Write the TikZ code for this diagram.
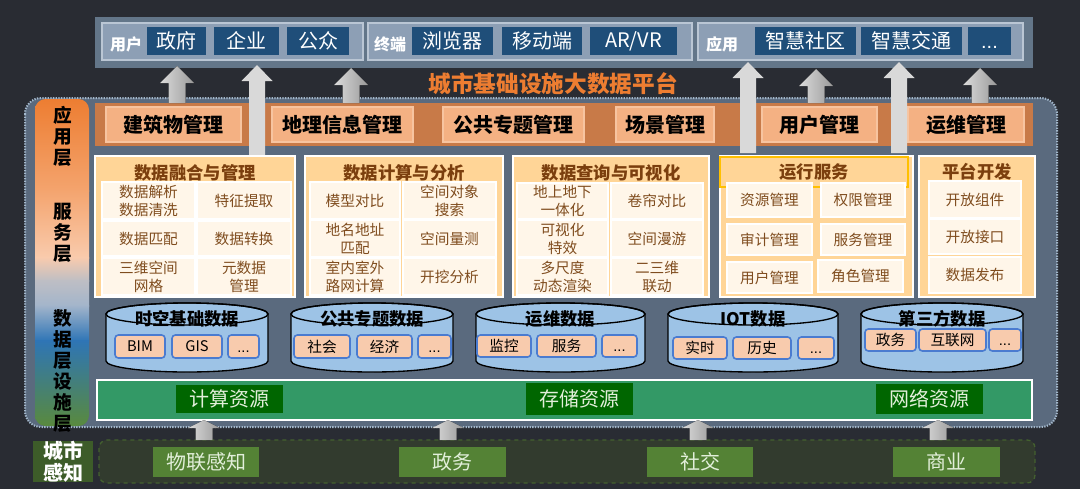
\documentclass[tikz,border=0pt]{standalone}
\usepackage{fontspec}
\setmainfont{Noto Sans CJK SC}
\newfontfamily\dotfont{Liberation Sans}
\newcommand\mydots{\vphantom{政}{\dotfont ...}}
\definecolor{bgc}{HTML}{292C33}
\definecolor{pouter}{HTML}{637689}
\definecolor{pinner}{HTML}{8D9FB5}
\definecolor{pinnerb}{HTML}{BAC6D4}
\definecolor{bluebx}{HTML}{1F4E79}
\definecolor{titleor}{HTML}{ED7D31}
\definecolor{platf}{HTML}{5A6A7E}
\definecolor{platb}{HTML}{A3B8CC}
\definecolor{appband}{HTML}{C87A48}
\definecolor{appbx}{HTML}{F4B183}
\definecolor{appbxb}{HTML}{F7C4A0}
\definecolor{svcfill}{HTML}{FFD597}
\definecolor{svctext}{HTML}{7B3F0E}
\definecolor{cellfill}{HTML}{FFF6E9}
\definecolor{celltext}{HTML}{7F4C1E}
\definecolor{goldc}{HTML}{FFC000}
\definecolor{cylfill}{HTML}{9DC3E6}
\definecolor{subfill}{HTML}{F8CBAD}
\definecolor{subdraw}{HTML}{4A7BD0}
\definecolor{infrafill}{HTML}{339966}
\definecolor{infralab}{HTML}{006600}
\definecolor{sensestr}{HTML}{323B2E}
\definecolor{sensebd}{HTML}{44612F}
\definecolor{citylab}{HTML}{3D5C29}
\definecolor{sensefill}{HTML}{548235}
\definecolor{sensetext}{HTML}{E2EFDA}
\definecolor{arrL}{HTML}{DCDCDC}
\definecolor{arrR}{HTML}{999999}
\definecolor{arrFlat}{HTML}{D9D9D9}
\tikzset{
  pinbox/.style={fill=pinner, draw=pinnerb, line width=1pt},
  bluebox/.style={fill=bluebx, text=white, font=\fontsize{15}{18}\selectfont},
  plabel/.style={text=white, font=\bfseries\fontsize{12}{14}\selectfont},
  appbox/.style={fill=appbx, draw=appbxb, line width=1pt, font=\bfseries\fontsize{15}{18}\selectfont},
  svcbox/.style={fill=svcfill, draw=white, line width=1.2pt},
  svctitle/.style={text=svctext, font=\bfseries\fontsize{13}{15}\selectfont},
  goldtitle/.style={draw=goldc, line width=1pt, text=svctext, font=\bfseries\fontsize{13}{15}\selectfont},
  cellbox/.style={fill=cellfill, draw=white, line width=0.8pt, text=celltext, font=\fontsize{11}{13.5}\selectfont, align=center},
  cylbody/.style={fill=cylfill, draw=black, line width=1pt},
  cylrim/.style={draw=black, line width=1pt},
  cyllabel/.style={font=\bfseries\fontsize{13}{15}\selectfont},
  subbox/.style={fill=subfill, draw=subdraw, line width=1.2pt, rounded corners=2.5pt, font=\fontsize{11}{13}\selectfont},
  infraband/.style={fill=infrafill, draw=white, line width=1pt},
  infralabel/.style={fill=infralab, text=sensetext, font=\fontsize{15}{18}\selectfont},
  sensebox/.style={fill=sensefill, text=sensetext, font=\fontsize{15}{18}\selectfont},
  layerlabel/.style={align=center, font=\bfseries\fontsize{14}{15.8}\selectfont},
  shadearrow/.style={left color=arrL, right color=arrR},
  flatarrow/.style={fill=arrFlat},
}
% name, x1, y1, x2, y2, style, text
\newcommand\bx[7]{\node[#6, inner sep=0pt, minimum width={(#4-#2)*0.75pt}, minimum height={(#5-#3)*0.75pt}] (#1) at ({(#2+#4)/2},{(#3+#5)/2}) {#7};}
% cx, top, bottom, shaft half, head half, head height, style
\newcommand\uparr[7]{\fill[#7] ({#1-#4},#3) -- ({#1-#4},{#2+#6}) -- ({#1-#5},{#2+#6}) -- (#1,#2) -- ({#1+#5},{#2+#6}) -- ({#1+#4},{#2+#6}) -- ({#1+#4},#3) -- cycle;}
% name, x1, x2, radius, label
\newcommand\mycylinder[5]{%
  \filldraw[cylbody] (#2,314) -- (#2,361) arc[start angle=180,end angle=360,x radius=#4,y radius=8.25pt] -- (#3,314) arc[start angle=0,end angle=180,x radius=#4,y radius=8.25pt] -- cycle;
  \draw[cylrim] ({(#2+#3)/2},314) ellipse[x radius=#4, y radius=8.25pt];
  \node[cyllabel] (#1) at ({(#2+#3)/2},319) {#5};}
\begin{document}
\begin{tikzpicture}[x=0.75pt,y=-0.75pt]
\useasboundingbox[fill=bgc] (0,0) rectangle (1080,489);

% ---------- top panel ----------
\fill[pouter] (95,17) rectangle (1033,68);
\bx{pu}{102}{23}{363}{60}{pinbox}{}
\bx{pt}{368}{23}{692}{60}{pinbox}{}
\bx{pa}{698}{23}{1023}{60}{pinbox}{}
\node[plabel] (lu) at (126,44) {用户};
\node[plabel] (lt) at (390,44) {终端};
\node[plabel] (la) at (722,44) {应用};
\bx{u1}{147}{27}{206}{55}{bluebox}{政府}
\bx{u2}{214}{27}{279}{55}{bluebox}{企业}
\bx{u3}{287}{27}{349}{55}{bluebox}{公众}
\bx{t1}{412}{27}{493}{55}{bluebox}{浏览器}
\bx{t2}{502}{27}{582}{55}{bluebox}{移动端}
\bx{t3}{590}{27}{677}{55}{bluebox}{AR/VR}
\bx{a1}{755}{27}{856}{55}{bluebox}{智慧社区}
\bx{a2}{861}{27}{962}{55}{bluebox}{智慧交通}
\bx{a3}{968}{27}{1011}{55}{bluebox}{\mydots}

\node[text=titleor, font=\bfseries\fontsize{17}{20}\selectfont] (title) at (553,84) {城市基础设施大数据平台};

% ---------- platform ----------
\draw[fill=platf, draw=platb, line width=1.5pt, dash pattern=on 1pt off 1pt, rounded corners=12pt] (25,98) rectangle (1057,427);

% left layer strip
\begin{scope}
\clip[rounded corners=8pt] (35,99) rectangle (89,426);
\shade[top color=titleor, bottom color={rgb,255:red,244;green,164;blue,110}] (35,98) rectangle (89,191);
\shade[top color={rgb,255:red,244;green,164;blue,110}, bottom color={rgb,255:red,249;green,203;blue,173}] (35,190) rectangle (89,258);
\shade[top color={rgb,255:red,249;green,203;blue,173}, bottom color={rgb,255:red,190;green,190;blue,196}] (35,257) rectangle (89,281);
\shade[top color={rgb,255:red,190;green,190;blue,196}, bottom color={rgb,255:red,163;green,181;blue,203}] (35,280) rectangle (89,306);
\shade[top color={rgb,255:red,163;green,181;blue,203}, bottom color={rgb,255:red,46;green,117;blue,182}] (35,305) rectangle (89,341);
\shade[top color={rgb,255:red,46;green,117;blue,182}, bottom color={rgb,255:red,90;green,138;blue,60}] (35,340) rectangle (89,427);
\end{scope}
\node[layerlabel] (ly1) at (63,136) {应\\用\\层};
\node[layerlabel] (ly2) at (63,233) {服\\务\\层};
\node[layerlabel] (ly3) at (63,371) {数\\据\\层\\设\\施\\层};

% ---------- application layer ----------
\fill[appband] (95,103) rectangle (1033,146);
\bx{m1}{106}{107}{241}{142}{appbox}{建筑物管理}
\bx{m2}{272}{107}{413}{142}{appbox}{地理信息管理}
\bx{m3}{443}{107}{584}{142}{appbox}{公共专题管理}
\bx{m4}{616}{107}{714}{142}{appbox}{场景管理}
\bx{m5}{762}{107}{877}{142}{appbox}{用户管理}
\bx{m6}{908}{107}{1024}{142}{appbox}{运维管理}

% arrows to top panel
\uparr{177}{66}{103}{8.5}{17}{17}{shadearrow}
\uparr{351}{68}{103}{8.5}{17}{17}{shadearrow}
\uparr{816}{69}{103}{8.5}{17}{17}{shadearrow}
\uparr{980}{68}{103}{8.5}{17}{17}{shadearrow}
\uparr{257}{65}{155}{8}{15.5}{16}{flatarrow}
\uparr{748}{62}{153}{8}{15.5}{16}{flatarrow}
\uparr{899}{62}{153}{8}{15.5}{16}{flatarrow}

% ---------- service layer ----------
\bx{s1}{95}{156}{295}{297}{svcbox}{}
\node[svctitle] (s1t) at (195,173) {数据融合与管理};
\bx{c11}{102}{182}{195}{219}{cellbox}{数据解析\\数据清洗}
\bx{c12}{197}{182}{291}{219}{cellbox}{特征提取}
\bx{c13}{102}{221}{195}{256}{cellbox}{数据匹配}
\bx{c14}{197}{221}{291}{256}{cellbox}{数据转换}
\bx{c15}{102}{258}{195}{295}{cellbox}{三维空间\\网格}
\bx{c16}{197}{258}{291}{295}{cellbox}{元数据\\管理}

\bx{s2}{305}{156}{503}{297}{svcbox}{}
\node[svctitle] (s2t) at (404,173) {数据计算与分析};
\bx{c21}{310}{182}{400}{219}{cellbox}{模型对比}
\bx{c22}{403}{182}{496}{219}{cellbox}{空间对象\\搜索}
\bx{c23}{310}{220}{400}{257}{cellbox}{地名地址\\匹配}
\bx{c24}{403}{220}{496}{257}{cellbox}{空间量测}
\bx{c25}{310}{258}{400}{295}{cellbox}{室内室外\\路网计算}
\bx{c26}{403}{258}{496}{295}{cellbox}{开挖分析}

\bx{s3}{513}{156}{709}{297}{svcbox}{}
\node[svctitle] (s3t) at (611,173) {数据查询与可视化};
\bx{c31}{517}{183}{608}{219}{cellbox}{地上地下\\一体化}
\bx{c32}{611}{183}{703}{219}{cellbox}{卷帘对比}
\bx{c33}{517}{220}{608}{257}{cellbox}{可视化\\特效}
\bx{c34}{611}{220}{703}{257}{cellbox}{空间漫游}
\bx{c35}{517}{258}{608}{295}{cellbox}{多尺度\\动态渲染}
\bx{c36}{611}{258}{703}{295}{cellbox}{二三维\\联动}

\bx{s4}{720}{156}{913}{297}{svcbox}{}
\bx{s4t}{720}{157}{908}{187}{goldtitle}{运行服务}
\bx{c41}{727}{183}{812}{217}{cellbox}{资源管理}
\bx{c42}{821}{183}{905}{217}{cellbox}{权限管理}
\bx{c43}{727}{224}{812}{255}{cellbox}{审计管理}
\bx{c44}{821}{224}{905}{255}{cellbox}{服务管理}
\bx{c45}{727}{262}{812}{293}{cellbox}{用户管理}
\bx{c46}{818}{260}{903}{292}{cellbox}{角色管理}

\bx{s5}{919}{156}{1035}{297}{svcbox}{}
\node[svctitle] (s5t) at (977,172) {平台开发};
\bx{c51}{929}{181}{1021}{218}{cellbox}{开放组件}
\bx{c52}{929}{219}{1021}{254}{cellbox}{开放接口}
\bx{c53}{929}{257}{1021}{293}{cellbox}{数据发布}

% ---------- data layer ----------
\mycylinder{d1}{106}{268}{60.75pt}{时空基础数据}
\bx{d11}{115}{335}{165}{358}{subbox}{BIM}
\bx{d12}{172}{335}{222}{358}{subbox}{GIS}
\bx{d13}{228}{335}{259}{358}{subbox}{\mydots}

\mycylinder{d2}{291}{453}{60.75pt}{公共专题数据}
\bx{d21}{294}{335}{350}{358}{subbox}{社会}
\bx{d22}{357}{335}{412}{358}{subbox}{经济}
\bx{d23}{418}{335}{451}{358}{subbox}{\mydots}

\mycylinder{d3}{476}{645}{63.375pt}{运维数据}
\bx{d31}{477}{335}{531}{357}{subbox}{监控}
\bx{d32}{537}{335}{596}{357}{subbox}{服务}
\bx{d33}{602}{335}{637}{357}{subbox}{\mydots}

\mycylinder{d4}{668}{838}{63.75pt}{IOT数据}
\bx{d41}{673}{337}{727}{359}{subbox}{实时}
\bx{d42}{733}{337}{791}{359}{subbox}{历史}
\bx{d43}{798}{337}{834}{359}{subbox}{\mydots}

\mycylinder{d5}{861}{1023}{60.75pt}{第三方数据}
\bx{d51}{865}{329}{916}{351}{subbox}{政务}
\bx{d52}{919}{329}{986}{351}{subbox}{互联网}
\bx{d53}{989}{329}{1021}{351}{subbox}{\mydots}

% ---------- infrastructure ----------
\bx{inf}{97}{380}{1032}{420}{infraband}{}
\bx{i1}{176}{385}{283}{413}{infralabel}{计算资源}
\bx{i2}{526}{383}{633}{415}{infralabel}{存储资源}
\bx{i3}{876}{384}{983}{414}{infralabel}{网络资源}

% ---------- city sensing ----------
\draw[fill=sensestr, draw=sensebd, line width=1pt, dashed, rounded corners=6pt] (99,440) rectangle (1035,483);
\bx{city}{33}{441}{93}{482}{fill=citylab, text=white, align=center, font=\bfseries\fontsize{15}{16.5}\selectfont}{城市\\感知}
\bx{e1}{153}{447}{259}{477}{sensebox}{物联感知}
\bx{e2}{399}{447}{506}{477}{sensebox}{政务}
\bx{e3}{647}{447}{753}{477}{sensebox}{社交}
\bx{e4}{893}{447}{1000}{477}{sensebox}{商业}

\uparr{204}{420}{440}{8.5}{16}{8}{shadearrow}
\uparr{448}{420}{440}{8.5}{16}{8}{shadearrow}
\uparr{698}{420}{440}{8.5}{16}{8}{shadearrow}
\uparr{938}{420}{440}{8.5}{16}{8}{shadearrow}
\end{tikzpicture}
\end{document}
